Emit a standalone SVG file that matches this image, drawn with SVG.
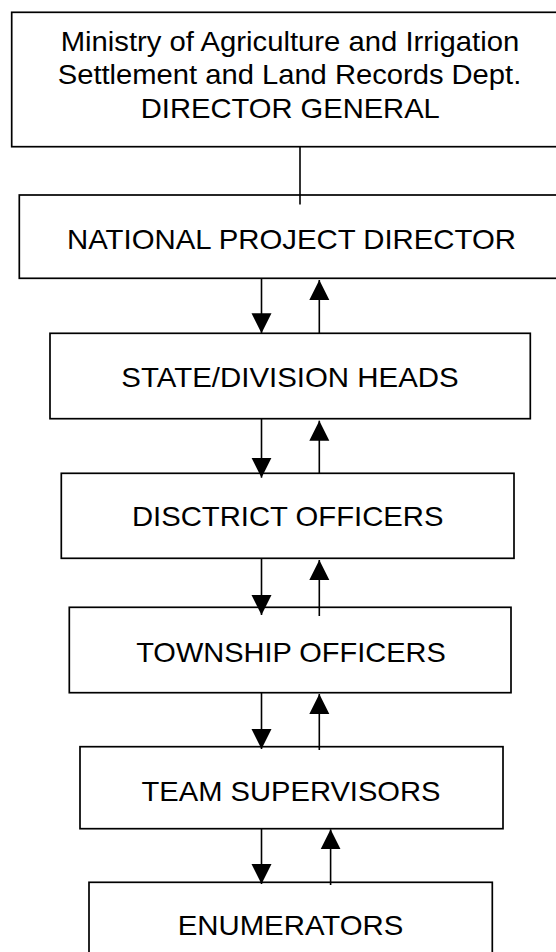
<svg xmlns="http://www.w3.org/2000/svg" width="556" height="952" viewBox="0 0 556 952">
<style>
.box{fill:#fff;stroke:#000;stroke-width:1.7}
.t{font-family:"Liberation Sans",Arial,sans-serif;font-size:27.5px;fill:#000;text-anchor:middle}
.c{stroke:#000;stroke-width:1.6;fill:none}
</style>
<defs>
<marker id="ah" markerUnits="userSpaceOnUse" markerWidth="21" markerHeight="21" viewBox="0 0 21 21" refX="20" refY="10.5" orient="auto">
<path d="M0,0.5 L20,10.5 L0,20.5 Z" fill="#000"/>
</marker>
</defs>
<rect width="556" height="952" fill="#fff"/>
<g id="n1"><rect class="box" x="11.7" y="12.3" width="560" height="134.4"/>
<text class="t" x="290" y="50.5" textLength="458.6" lengthAdjust="spacingAndGlyphs">Ministry of Agriculture and Irrigation</text>
<text class="t" x="289.5" y="84" textLength="463.5" lengthAdjust="spacingAndGlyphs">Settlement and Land Records Dept.</text>
<text class="t" x="290.3" y="118" textLength="299" lengthAdjust="spacingAndGlyphs">DIRECTOR GENERAL</text></g>
<g id="n2"><rect class="box" x="19.3" y="195" width="560" height="83.3"/>
<text class="t" x="291.5" y="249" textLength="449" lengthAdjust="spacingAndGlyphs">NATIONAL PROJECT DIRECTOR</text></g>
<g id="n3"><rect class="box" x="50" y="333.3" width="480.3" height="85.4"/>
<text class="t" x="290" y="387" textLength="337.3" lengthAdjust="spacingAndGlyphs">STATE/DIVISION HEADS</text></g>
<g id="n4"><rect class="box" x="61.3" y="473.3" width="452.7" height="85"/>
<text class="t" x="287.7" y="526.3" textLength="311.4" lengthAdjust="spacingAndGlyphs">DISCTRICT OFFICERS</text></g>
<g id="n5"><rect class="box" x="69.3" y="607.3" width="441.7" height="85.4"/>
<text class="t" x="291" y="662" textLength="309.6" lengthAdjust="spacingAndGlyphs">TOWNSHIP OFFICERS</text></g>
<g id="n6"><rect class="box" x="80" y="746.7" width="423" height="82"/>
<text class="t" x="291" y="801" textLength="299" lengthAdjust="spacingAndGlyphs">TEAM SUPERVISORS</text></g>
<g id="n7"><rect class="box" x="89" y="882.3" width="403.3" height="80"/>
<text class="t" x="290.5" y="935.3" textLength="225.6" lengthAdjust="spacingAndGlyphs">ENUMERATORS</text></g>
<g id="connectors">
<line class="c" x1="300" y1="146.7" x2="300" y2="204.5"/>
<line class="c" x1="261.5" y1="278.3" x2="261.5" y2="333.3" marker-end="url(#ah)"/>
<line class="c" x1="319.3" y1="333.3" x2="319.3" y2="280" marker-end="url(#ah)"/>
<line class="c" x1="261.5" y1="418.7" x2="261.5" y2="477.7" marker-end="url(#ah)"/>
<line class="c" x1="319.3" y1="473.3" x2="319.3" y2="420.7" marker-end="url(#ah)"/>
<line class="c" x1="261.5" y1="558.3" x2="261.5" y2="615" marker-end="url(#ah)"/>
<line class="c" x1="319.3" y1="616" x2="319.3" y2="560" marker-end="url(#ah)"/>
<line class="c" x1="261.5" y1="692.7" x2="261.5" y2="749" marker-end="url(#ah)"/>
<line class="c" x1="319.3" y1="750" x2="319.3" y2="694" marker-end="url(#ah)"/>
<line class="c" x1="261.5" y1="828.7" x2="261.5" y2="884" marker-end="url(#ah)"/>
<line class="c" x1="330.6" y1="885" x2="330.6" y2="829.3" marker-end="url(#ah)"/>
</g>
</svg>
